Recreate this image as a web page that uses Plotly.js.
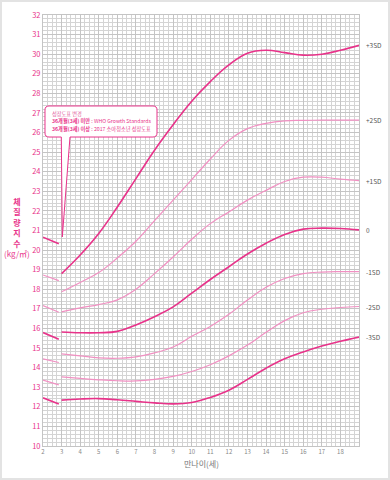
<!DOCTYPE html>
<html><head><meta charset="utf-8">
<script src="https://cdn.plot.ly/plotly-3.0.1.min.js"></script>
<style>
html,body{margin:0;padding:0;background:#fff;}
#wrap{width:386px;height:476px;border:2px solid #e3e3e3;}
#chart{width:386px;height:476px;}
</style></head>
<body><div id="wrap"><div id="chart"></div></div>
<script>
// WHO segment (24–35 months)
const agesWho = [2, 2.85];
const whoP3 = [20.66, 20.32];
const whoP2 = [18.73, 18.44];
const whoP1 = [17.17, 16.83];
const who0  = [15.79, 15.45];
const whoM1 = [14.45, 14.26];
const whoM2 = [13.36, 13.12];
const whoM3 = [12.46, 12.14];

// 2017 Korean growth chart (3–19 years)
const ages2017 = [3,4,5,6,7,8,9,10,11,12,13,14,15,16,17,18,19];
const sdP3 = [18.8,19.75,20.85,22.2,23.65,25.1,26.4,27.6,28.6,29.45,30.05,30.2,30.08,29.95,30.0,30.2,30.45];
const sdP2 = [17.87,18.35,18.85,19.6,20.45,21.5,22.55,23.6,24.65,25.6,26.2,26.47,26.6,26.62,26.63,26.63,26.63];
const sdP1 = [16.85,17.05,17.22,17.46,18.0,18.8,19.65,20.55,21.35,21.95,22.55,23.05,23.5,23.72,23.72,23.62,23.55];
const sd0  = [15.82,15.78,15.78,15.85,16.18,16.6,17.1,17.8,18.5,19.15,19.8,20.35,20.8,21.07,21.12,21.1,21.03];
const sdM1 = [14.7,14.6,14.5,14.48,14.55,14.75,15.05,15.6,16.1,16.72,17.45,18.1,18.55,18.8,18.88,18.9,18.9];
const sdM2 = [13.53,13.45,13.38,13.33,13.32,13.4,13.55,13.8,14.15,14.6,15.15,15.8,16.4,16.8,16.98,17.07,17.12];
const sdM3 = [12.34,12.4,12.42,12.36,12.28,12.2,12.15,12.22,12.48,12.85,13.4,13.97,14.45,14.8,15.1,15.35,15.56];

const sdLabels = ['+3SD','+2SD','+1SD','0','-1SD','-2SD','-3SD'];
const xTicks = [2,3,4,5,6,7,8,9,10,11,12,13,14,15,16,17,18];

const DARK = '#e8338a', LIGHT = '#f190c2';
const series2017 = [sdP3, sdP2, sdP1, sd0, sdM1, sdM2, sdM3];
const seriesWho = [whoP3, whoP2, whoP1, who0, whoM1, whoM2, whoM3];
const isDark = [true,false,false,true,false,false,true];

const traces = [];
series2017.forEach((s,i)=>{
  traces.push({x:ages2017, y:s, mode:'lines', line:{color:isDark[i]?DARK:LIGHT, width:isDark[i]?1.6:1.2, shape:'spline', smoothing:1.2}, hoverinfo:'skip'});
});
seriesWho.forEach((s,i)=>{
  traces.push({x:agesWho, y:s, mode:'lines', line:{color:isDark[i]?DARK:LIGHT, width:isDark[i]?1.6:1.2}, hoverinfo:'skip'});
});

// plot area in pixels (page coords): x 43..359, y 15..446
const PX0=43, PX1=359, PY0=15, PY1=446;
const px = v => (v-PX0)/(PX1-PX0);
const py = v => (PY1-v)/(PY1-PY0);

const FONT = 'Noto Sans CJK KR, Noto Sans, sans-serif';
const annotations = [];
sdLabels.forEach((t,i)=>{
  const s = series2017[i];
  annotations.push({x:ages2017[ages2017.length-1], y:s[s.length-1], xref:'x', yref:'y', text:t, showarrow:false, xanchor:'left', xshift:5, font:{size:6.5, color:'#555', family:FONT}});
});
// y-axis title
annotations.push({xref:'paper', yref:'paper', x:px(17), y:py(227), text:'<b>체<br>질<br>량<br>지<br>수</b><br>(kg/㎡)', showarrow:false, xanchor:'center', yanchor:'middle', align:'center', font:{size:8, color:'#e8338a', family:FONT}});
// x-axis title
annotations.push({xref:'paper', yref:'paper', x:px(201), y:py(464), text:'만나이(세)', showarrow:false, xanchor:'center', yanchor:'middle', font:{size:8, color:'#777', family:FONT}});
// callout text
annotations.push({xref:'paper', yref:'paper', x:px(50), y:py(113), text:'성장도표 변경', showarrow:false, xanchor:'left', yanchor:'middle', font:{size:5.2, color:'#e0559a', family:FONT}});
annotations.push({xref:'paper', yref:'paper', x:px(50), y:py(121), text:'<b>36개월(3세) 미만</b> : WHO Growth Standards', showarrow:false, xanchor:'left', yanchor:'middle', font:{size:5.2, color:'#e8338a', family:FONT}});
annotations.push({xref:'paper', yref:'paper', x:px(50), y:py(129), text:'<b>36개월(3세) 이상</b> : 2017 소아청소년 성장도표', showarrow:false, xanchor:'left', yanchor:'middle', font:{size:5.2, color:'#e8338a', family:FONT}});

// callout bubble path (paper coords)
function P(x,y){return px(x).toFixed(4)+','+py(y).toFixed(4);}
const L=45,T=106,R=157,B=137,rr=4;
const bubble = 'M'+P(L+rr,T)+' L'+P(R-rr,T)+' Q'+P(R,T)+' '+P(R,T+rr)+' L'+P(R,B-rr)+' Q'+P(R,B)+' '+P(R-rr,B)+
  ' L'+P(70,B)+' L'+P(62.3,237)+' L'+P(61.3,B)+' L'+P(L+rr,B)+' Q'+P(L,B)+' '+P(L,B-rr)+' L'+P(L,T+rr)+' Q'+P(L,T)+' '+P(L+rr,T)+' Z';

const layout = {
  width:386, height:476,
  margin:{l:41, r:29, t:13, b:32},
  paper_bgcolor:'#fff', plot_bgcolor:'#fff',
  showlegend:false,
  font:{family:FONT},
  xaxis:{range:[2,19], tickmode:'array', tickvals:xTicks, ticks:'', tickfont:{size:6, color:'#888'},
    showgrid:true, gridcolor:'#c4c4c4', gridwidth:1, zeroline:false, showline:true, linecolor:'#c4c4c4', mirror:true,
    minor:{tickmode:'linear', tick0:2, dtick:0.25, showgrid:true, gridcolor:'#d4d4d4', gridwidth:1}},
  yaxis:{range:[10,32], tickmode:'linear', tick0:10, dtick:1, ticks:'', tickfont:{size:7.5, color:'#e8338a'},
    showgrid:true, gridcolor:'#c4c4c4', gridwidth:1, zeroline:false, showline:true, linecolor:'#c4c4c4', mirror:true,
    minor:{tickmode:'linear', tick0:10, dtick:0.2, showgrid:true, gridcolor:'#d4d4d4', gridwidth:1}},
  shapes:[{type:'path', xref:'paper', yref:'paper', path:bubble, line:{color:'#e8338a', width:1}, fillcolor:'#fff', layer:'above'}],
  annotations:annotations
};
Plotly.newPlot('chart', traces, layout, {displayModeBar:false, staticPlot:true});
</script></body></html>
